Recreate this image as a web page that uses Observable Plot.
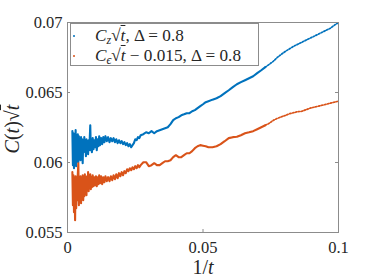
<!DOCTYPE html>
<html><head><meta charset="utf-8">
<script src="https://cdn.jsdelivr.net/npm/d3@7"></script>
<script src="https://cdn.jsdelivr.net/npm/@observablehq/plot@0.6"></script>
<style>
body{margin:0;background:#fff;}
#wrap{position:relative;width:374px;height:280px;font-family:"Times New Roman","Liberation Serif",Tinos,"DejaVu Serif",serif;color:#262626;}
#wrap svg text{font-family:"Times New Roman","Liberation Serif",Tinos,"DejaVu Serif",serif;}
.ov{position:absolute;white-space:nowrap;line-height:1;}
.rad{text-decoration:overline;text-decoration-thickness:1px;}
#legend{position:absolute;left:70px;top:23px;width:187px;height:41px;border:1px solid #8c8c8c;background:#fff;font-size:17.2px;}
#legend .row{position:absolute;left:24px;white-space:nowrap;line-height:1;}
#legend .mk{position:absolute;left:2px;width:2.4px;height:2.4px;border-radius:50%;}
sub{font-size:0.7em;vertical-align:-0.25em;}
</style></head><body><div id="wrap"></div>
<script>
const invT = [
 0.0018,0.0020,0.0022,0.0024,0.0026,0.0028,0.0030,0.0032,0.0034,0.0036,0.0038,0.0040,0.0042,0.0044,0.0046,0.0048,0.0050,0.0052,0.0054,0.0056,0.0058,0.0060,0.0062,0.0064,0.0066,0.0068,0.0070,0.0072,0.0074,0.0076,0.0078,0.0080,0.0082,0.0084,0.0086,0.0088,0.0090,
 0.0093,0.0096,0.0099,0.0102,0.0105,0.0108,0.0111,0.0114,0.0117,0.0120,
 0.0124,0.0128,0.0132,0.0136,0.0140,
 0.0145,0.0150,0.0155,0.0160,0.0165,0.0170,0.0175,0.0180,0.0185,0.0190,0.0195,0.0200,0.0205,0.0210,0.0215,0.0220,0.0225,0.0230,0.0235,0.0240,0.0245,0.0250,0.0255,0.0260,0.0265,0.0270,
 0.028,0.029,0.030,0.031,0.032,0.033,0.034,0.035,0.036,0.037,0.038,0.039,0.040,0.041,0.042,0.043,0.044,0.045,0.046,0.047,0.048,0.049,0.050,0.051,0.052,
 0.0535,0.0550,0.0565,0.0580,0.0595,0.0610,0.0625,0.0640,0.0655,0.0670,0.0685,0.0700,0.0715,0.0730,0.0745,0.0760,0.0775,0.0790,0.0805,0.0820,0.0835,0.0850,0.0865,0.0880,0.0895,0.0910,0.0925,0.0940,0.0955,0.0970,0.0985,0.1000
];
const czSqrtT = [
 0.06224,0.05981,0.06209,0.05959,0.06195,0.06016,0.06231,0.05974,0.06174,0.06031,0.06202,0.06002,0.06188,0.06045,0.06159,0.06016,0.06181,0.06052,0.06166,0.05995,0.06152,0.06074,0.06181,0.06088,0.06159,0.06045,0.06166,0.06081,0.06152,0.06059,0.06159,0.06088,0.06166,0.06266,0.06088,0.06145,0.06074,
 0.06174,0.06095,0.06159,0.06109,0.06181,0.06088,0.06166,0.06116,0.06188,0.06124,
 0.06174,0.06131,0.06181,0.06145,0.06188,
 0.06152,0.06181,0.06145,0.06174,0.06152,0.06174,0.06145,0.06166,0.06138,0.06159,0.06138,0.06152,0.06131,0.06145,0.06124,0.06138,0.06116,0.06131,0.06109,0.06124,0.06138,0.06166,0.06159,0.06181,0.06174,0.06195,
 0.06202,0.06216,0.06209,0.06224,0.06209,0.06224,0.06231,0.06238,0.06245,0.06252,0.06274,0.06302,0.06316,0.06324,0.06337,0.06344,0.06352,0.06352,0.06366,0.06374,0.06388,0.06402,0.06416,0.06431,0.06438,
 0.06449,0.06459,0.06474,0.06495,0.06516,0.06538,0.06559,0.06574,0.06588,0.06602,0.06616,0.06638,0.06659,0.06681,0.06702,0.06724,0.06752,0.06774,0.06795,0.06813,0.06831,0.06845,0.06859,0.06874,0.06888,0.06902,0.06916,0.06931,0.06945,0.06959,0.06981,0.07000
];
const ceSqrtTShifted = [
 0.05931,0.05695,0.05909,0.05645,0.05888,0.05588,0.05902,0.05674,0.05874,0.05731,0.05916,0.05995,0.05695,0.05888,0.05745,0.05902,0.05709,0.05881,0.05752,0.05909,0.05731,0.05888,0.05759,0.05916,0.05774,0.05895,0.05766,0.05902,0.05802,0.05931,0.05795,0.05902,0.05816,0.05916,0.05809,0.05895,0.05824,
 0.05909,0.05831,0.05895,0.05838,0.05902,0.05831,0.05895,0.05845,0.05909,0.05852,
 0.05902,0.05845,0.05895,0.05859,0.05902,
 0.05866,0.05895,0.05866,0.05902,0.05874,0.05909,0.05881,0.05916,0.05888,0.05924,0.05902,0.05931,0.05909,0.05938,0.05924,0.05952,0.05938,0.05959,0.05945,0.05966,0.05952,0.05974,0.05959,0.05981,0.05966,0.05981,
 0.06002,0.06002,0.05974,0.05981,0.05995,0.05981,0.05981,0.05995,0.06009,0.06009,0.06016,0.06038,0.06052,0.06038,0.06038,0.06052,0.06066,0.06066,0.06081,0.06102,0.06116,0.06124,0.06120,0.06116,0.06109,
 0.06109,0.06116,0.06131,0.06152,0.06174,0.06181,0.06184,0.06195,0.06209,0.06216,0.06224,0.06238,0.06252,0.06266,0.06281,0.06302,0.06316,0.06327,0.06337,0.06349,0.06356,0.06363,0.06366,0.06377,0.06388,0.06395,0.06402,0.06409,0.06416,0.06424,0.06431,0.06438
];
const xTicks = [0, 0.05, 0.1];
const yTicks = [0.055, 0.06, 0.065, 0.07];
const seriesColors = ["#0072BD", "#D95319"];
const deltaValue = "0.8";
const shiftValue = "0.015";

const blue = invT.map((x, i) => ({x, y: czSqrtT[i]}));
const orange = invT.map((x, i) => ({x, y: ceSqrtTShifted[i]}));
const dense = d => d.x <= 0.073;
const sparse = d => d.x >= 0.073;

const W = 374, H = 280, mL = 67, mR = 36, mT = 22, mB = 48;
const pw = W - mL - mR, ph = H - mT - mB;
const axisGrey = "#8c8c8c";
const serif = '"Times New Roman", "Liberation Serif", Tinos, "DejaVu Serif", serif';

const chart = Plot.plot({
  width: W, height: H,
  marginLeft: mL, marginRight: mR, marginTop: mT, marginBottom: mB,
  x: {domain: [0, 0.1]},
  y: {domain: [0.055, 0.07]},
  style: {fontFamily: serif, fontSize: "16.5px", color: "#262626", background: "white", overflow: "visible"},
  marks: [
    Plot.line(blue.filter(dense), {x: "x", y: "y", stroke: seriesColors[0], strokeWidth: 2.1}),
    Plot.line(blue.filter(sparse), {x: "x", y: "y", stroke: seriesColors[0], strokeWidth: 1.7, strokeDasharray: "1.4,1.6"}),
    Plot.line(orange.filter(dense), {x: "x", y: "y", stroke: seriesColors[1], strokeWidth: 2.1}),
    Plot.line(orange.filter(sparse), {x: "x", y: "y", stroke: seriesColors[1], strokeWidth: 1.7, strokeDasharray: "1.4,1.6"}),
    Plot.frame({stroke: axisGrey}),
    Plot.tickY(yTicks, {y: d => d, insetRight: pw - 3, stroke: axisGrey}),
    Plot.tickY(yTicks, {y: d => d, insetLeft: pw - 3, stroke: axisGrey}),
    Plot.tickX(xTicks, {x: d => d, insetTop: ph - 3, stroke: axisGrey}),
    Plot.tickX(xTicks, {x: d => d, insetBottom: ph - 3, stroke: axisGrey}),
    Plot.axisX(xTicks, {tickSize: 0, tickPadding: 9, label: null, tickFormat: d => String(d), fontFamily: serif}),
    Plot.axisY(yTicks, {tickSize: 0, tickPadding: 5, label: null, tickFormat: d => String(d), fontFamily: serif})
  ]
});

const wrap = document.getElementById("wrap");
wrap.appendChild(chart);

const sq = '\u221A<span class="rad"><i>t</i></span>';
const ylab = document.createElement("div");
ylab.className = "ov";
ylab.style.cssText = "left:12px;top:129px;font-size:20px;transform:translate(-50%,-50%) rotate(-90deg);";
ylab.innerHTML = `<i>C</i>(<i>t</i>)${sq}`;
wrap.appendChild(ylab);

const xlab = document.createElement("div");
xlab.className = "ov";
xlab.style.cssText = "left:203px;top:267px;font-size:20px;transform:translate(-50%,-50%);";
xlab.innerHTML = `1/<i>t</i>`;
wrap.appendChild(xlab);

const legend = document.createElement("div");
legend.id = "legend";
legend.innerHTML =
  `<span class="mk" style="top:11px;background:${seriesColors[0]}"></span>` +
  `<div class="row" style="top:3px"><i>C</i><sub><i>z</i></sub>${sq}, \u0394 = ${deltaValue}</div>` +
  `<span class="mk" style="top:31px;background:${seriesColors[1]}"></span>` +
  `<div class="row" style="top:23px"><i>C</i><sub><i>\u03F5</i></sub>${sq} \u2212 ${shiftValue}, \u0394 = ${deltaValue}</div>`;
wrap.appendChild(legend);
</script>
</body></html>
